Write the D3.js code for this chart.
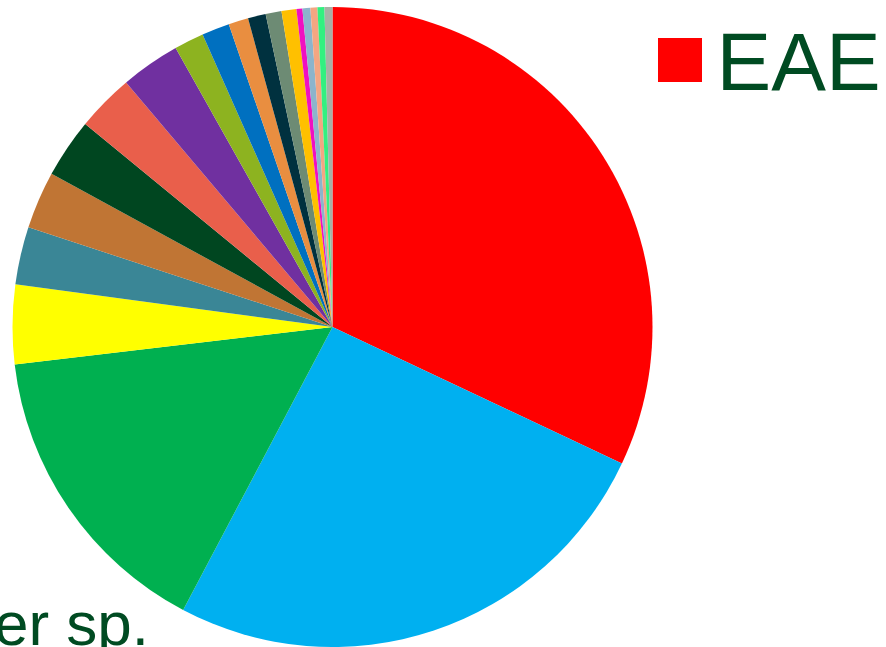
<!DOCTYPE html>
<html>
<head>
<meta charset="utf-8">
<script src="https://cdn.jsdelivr.net/npm/d3@7"></script>
<style>
  html, body { margin: 0; padding: 0; background: #ffffff; }
  svg { display: block; }
</style>
</head>
<body>
<svg id="chart" width="886" height="647"></svg>
<script>
// Share of records per taxon (percent), clockwise from 12 o'clock
const categories = [
  "EAE", "Taxon B", "Taxon C", "Taxon D", "Taxon E", "Taxon F", "Taxon G",
  "Taxon H", "Taxon I", "Taxon J", "Taxon K", "Taxon L", "Taxon M", "Taxon N",
  "Taxon O", "Taxon P", "Taxon Q", "Taxon R", "Taxon S", "Other sp."
];
const values = [
  32.0, 25.7, 15.4, 4.0, 2.9, 2.9, 3.0, 2.9, 3.0, 1.5,
  1.4, 1.0, 0.9, 0.8, 0.75, 0.3, 0.4, 0.35, 0.35, 0.4
];
const colors = [
  "#ff0000", "#00b0f0", "#00b050", "#ffff00", "#3a8696", "#c07534", "#004620",
  "#e95f4b", "#7030a0", "#8db320", "#0070c0", "#e98e40", "#00313f", "#6d8b74",
  "#ffc000", "#f010c0", "#8cb4cc", "#f4a682", "#33f080", "#a8b0a6"
];
const legendItems = ["EAE"];
const footLabel = "Other sp.";

const svg = d3.select("#chart");
const cx = 332.5, cy = 327, radius = 320;

const color = d3.scaleOrdinal().domain(categories).range(colors);

const pie = d3.pie()
  .sort(null)
  .value(d => d.value)
  .startAngle(0)
  .endAngle(2 * Math.PI);

const data = categories.map((c, i) => ({ name: c, value: values[i] }));

const arc = d3.arc().innerRadius(0).outerRadius(radius);

svg.append("g")
  .attr("transform", `translate(${cx},${cy})`)
  .selectAll("path")
  .data(pie(data))
  .join("path")
  .attr("d", arc)
  .attr("fill", d => color(d.data.name));

// Legend
const legend = svg.append("g").attr("transform", "translate(658,38)");
legend.selectAll("rect")
  .data(legendItems)
  .join("rect")
  .attr("x", 0).attr("y", 0)
  .attr("width", 44).attr("height", 44)
  .attr("fill", d => color(d));
legend.selectAll("text")
  .data(legendItems)
  .join("text")
  .attr("x", 58.5).attr("y", 52)
  .attr("font-family", "'Liberation Sans', Arial, sans-serif")
  .attr("font-size", 82)
  .attr("fill", "#004b22")
  .text(d => d);

// Label for the remaining taxa
svg.append("text")
  .attr("x", 149).attr("y", 645)
  .attr("text-anchor", "end")
  .attr("font-family", "'Liberation Sans', Arial, sans-serif")
  .attr("font-size", 62)
  .attr("fill", "#004b22")
  .text(footLabel);
</script>
</body>
</html>
